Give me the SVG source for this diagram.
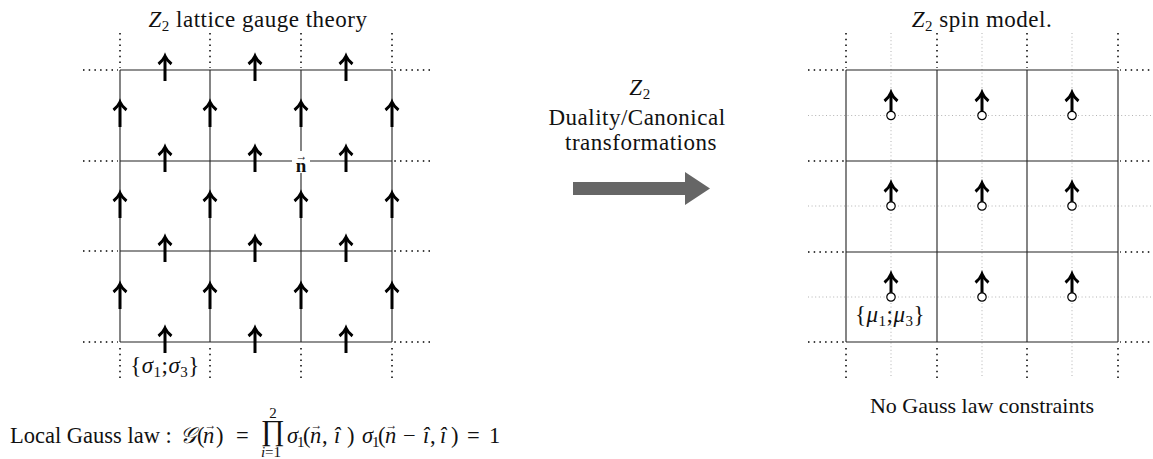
<svg xmlns="http://www.w3.org/2000/svg" xmlns:xlink="http://www.w3.org/1999/xlink" width="1153" height="459" viewBox="0 0 1153 459">
<style>
.ln{stroke:#222;stroke-width:1.1;fill:none}
.dot{stroke:#000;stroke-width:1.5;stroke-dasharray:1.5 4.2;fill:none}
.gdot{stroke:#aaa;stroke-width:0.9;stroke-dasharray:1 2.6;fill:none}
.t{font-family:"Liberation Serif",serif;font-size:23px;letter-spacing:0.5px;fill:#111}
.f{font-family:"Liberation Serif",serif;font-size:22.5px;fill:#111}
.s{font-size:15px}
.i{font-style:italic}
.arr{stroke:#000;stroke-width:3;fill:none}
.vec{font-family:"Liberation Serif",serif;font-size:12px;fill:#111}
</style>
<defs>
<g id="up" class="arr"><path d="M0,12V-12"/><path d="M-6.5,-5 Q-2,-8.5 0,-13 Q2,-8.5 6.5,-5"/></g>
<g id="spin"><path class="arr" d="M0,-4V-22"/><path class="arr" d="M-6.5,-14.5 Q-2,-18 0,-23 Q2,-18 6.5,-14.5"/><circle r="4.2" fill="#fff" stroke="#000" stroke-width="1.2"/></g>
</defs>
<rect width="1153" height="459" fill="#fff"/>

<g id="left-lattice">
<text class="t" x="258" y="27" text-anchor="middle"><tspan class="i">Z</tspan><tspan class="s" dy="4">2</tspan><tspan dy="-4"> lattice gauge theory</tspan></text>
<path class="dot" d="M83,70H118M83,161H118M83,251H118M83,342H118M430,70H394M430,161H394M430,251H394M430,342H394M120,33V68M210,33V68M301,33V68M392,33V68M120,378V344M210,378V344M301,378V344M392,378V344"/>
<path class="ln" d="M120,70H392M120,161H392M120,251H392M120,342H392M120,70V342M210,70V342M301,70V342M392,70V342"/>
<g>
<use href="#up" x="165" y="69"/><use href="#up" x="255" y="69"/><use href="#up" x="346" y="69"/>
<use href="#up" x="165" y="160"/><use href="#up" x="255" y="160"/><use href="#up" x="346" y="160"/>
<use href="#up" x="165" y="250"/><use href="#up" x="255" y="250"/><use href="#up" x="346" y="250"/>
<use href="#up" x="165" y="341"/><use href="#up" x="255" y="341"/><use href="#up" x="346" y="341"/>
<use href="#up" x="120" y="115"/><use href="#up" x="210" y="115"/><use href="#up" x="301" y="115"/><use href="#up" x="392" y="115"/>
<use href="#up" x="120" y="206"/><use href="#up" x="210" y="206"/><use href="#up" x="301" y="206"/><use href="#up" x="392" y="206"/>
<use href="#up" x="120" y="297"/><use href="#up" x="210" y="297"/><use href="#up" x="301" y="297"/><use href="#up" x="392" y="297"/>
</g>
<g id="node-n">
<rect x="292" y="151" width="18" height="22" fill="#fff"/>
<text x="301" y="171.5" text-anchor="middle" style="font-family:'Liberation Serif',serif;font-size:19px;font-weight:bold;fill:#111">n</text>
<text class="vec" x="301.5" y="160" text-anchor="middle">→</text>
</g>
<text class="t" x="165" y="373" text-anchor="middle">{<tspan class="i">σ</tspan><tspan class="s" dy="4">1</tspan><tspan dy="-4">;</tspan><tspan class="i">σ</tspan><tspan class="s" dy="4">3</tspan><tspan dy="-4">}</tspan></text>
</g>

<g id="gauss-law">
<text class="f" y="443"><tspan x="10">Local Gauss law :</tspan><tspan x="180" class="i">𝒢</tspan><tspan x="197">(</tspan><tspan x="203" class="i">n</tspan><tspan x="216">)</tspan><tspan x="236">=</tspan></text>
<text class="vec" x="210.5" y="429" text-anchor="middle">→</text>
<text class="f" x="273" y="440" text-anchor="middle" style="font-size:29px">∏</text>
<text class="f s" x="273" y="418" text-anchor="middle">2</text>
<text class="f s" x="271" y="457" text-anchor="middle"><tspan class="i">i</tspan>=1</text>
<text class="f" y="443"><tspan x="287" class="i">σ</tspan><tspan x="297" class="s" dy="4">1</tspan><tspan x="303" dy="-4">(</tspan><tspan x="310" class="i">n</tspan><tspan x="322">,</tspan><tspan x="334" class="i">î</tspan><tspan x="347">)</tspan><tspan x="362" class="i">σ</tspan><tspan x="372" class="s" dy="4">1</tspan><tspan x="378" dy="-4">(</tspan><tspan x="385" class="i">n</tspan><tspan x="403">−</tspan><tspan x="423" class="i">î</tspan><tspan x="430">,</tspan><tspan x="440" class="i">î</tspan><tspan x="451">)</tspan><tspan x="467">=</tspan><tspan x="489">1</tspan></text>
<text class="vec" x="316.5" y="429" text-anchor="middle">→</text>
<text class="vec" x="391.5" y="429" text-anchor="middle">→</text>
</g>

<g id="transformation-label">
<text class="t" x="640" y="95" text-anchor="middle"><tspan class="i">Z</tspan><tspan class="s" dy="4">2</tspan></text>
<text class="t" x="637" y="125" text-anchor="middle">Duality/Canonical</text>
<text class="t" x="641" y="150" text-anchor="middle">transformations</text>
</g>

<g id="connectors">
<polygon points="573,182 685,182 685,172 710,188.5 685,205 685,195 573,195" fill="#666"/>
</g>

<g id="right-lattice">
<text class="t" x="982" y="27" text-anchor="middle"><tspan class="i">Z</tspan><tspan class="s" dy="4">2</tspan><tspan dy="-4"> spin model.</tspan></text>
<path class="gdot" d="M891,33V378M982,33V378M1072,33V378M808,115.5H1155M808,206H1155M808,297H1155"/>
<path class="dot" d="M808,70H844M808,161H844M808,252H844M808,342H844M1155,70H1120M1155,161H1120M1155,252H1120M1155,342H1120M846,33V68M937,33V68M1027,33V68M1118,33V68M846,378V344M937,378V344M1027,378V344M1118,378V344"/>
<path class="ln" d="M846,70H1118M846,161H1118M846,252H1118M846,342H1118M846,70V342M937,70V342M1027,70V342M1118,70V342"/>
<use href="#spin" x="891" y="115.5"/><use href="#spin" x="982" y="115.5"/><use href="#spin" x="1072" y="115.5"/>
<use href="#spin" x="891" y="206"/><use href="#spin" x="982" y="206"/><use href="#spin" x="1072" y="206"/>
<use href="#spin" x="891" y="297"/><use href="#spin" x="982" y="297"/><use href="#spin" x="1072" y="297"/>
<text class="t" x="890" y="322" text-anchor="middle">{<tspan class="i">μ</tspan><tspan class="s" dy="4">1</tspan><tspan dy="-4">;</tspan><tspan class="i">μ</tspan><tspan class="s" dy="4">3</tspan><tspan dy="-4">}</tspan></text>
<text class="f" x="982" y="413" text-anchor="middle" style="font-size:22px">No Gauss law constraints</text>
</g>
</svg>
